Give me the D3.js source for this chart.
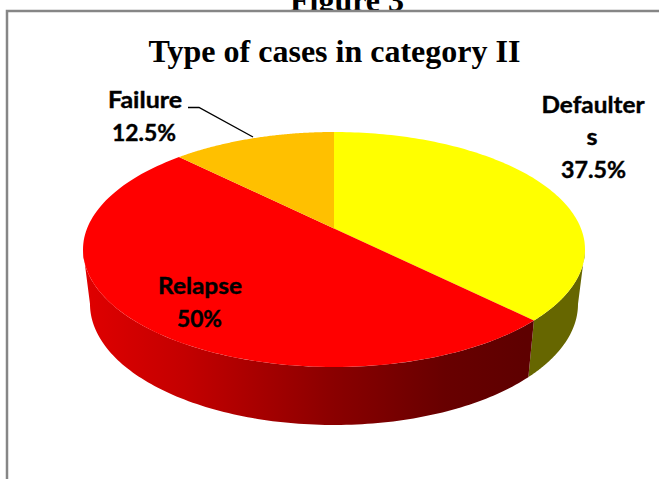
<!DOCTYPE html>
<html><head><meta charset="utf-8">
<style>html,body{margin:0;padding:0;background:#fff}svg{display:block}</style>
<script src="https://cdn.jsdelivr.net/npm/d3@7"></script></head>
<body><svg id="c" width="659" height="479"></svg>
<script>
const categories = ["Defaulters", "Relapse", "Failure"];
const values = [37.5, 50, 12.5];
const topColors = ["#ffff00", "#ff0000", "#ffc000"];
const sideColors = ["#666600", "#cc0000", "#996600"];
const valueLabels = ["37.5%", "50%", "12.5%"];

const svg = d3.select("#c");
const sans = "Lato,'Open Sans',sans-serif";
const serif = "'Liberation Serif','Times New Roman',serif";

svg.append("text").attr("x", 347).attr("y", 10.5).attr("text-anchor", "middle")
  .attr("font-family", serif).attr("font-weight", "bold").attr("font-size", 32).text("Figure 3");

// frame
svg.append("rect").attr("x", 7).attr("y", 11).attr("width", 700).attr("height", 600)
  .attr("fill", "#fff").attr("stroke", "#868686").attr("stroke-width", 2.5);

svg.append("text").attr("x", 334.5).attr("y", 62).attr("text-anchor", "middle")
  .attr("font-family", serif).attr("font-weight", "bold").attr("font-size", 32).text("Type of cases in category II");

// projection of the tilted disc
const k = 0.179;
function rim(a, e) {
  const x = Math.sin(a), y = -Math.cos(a), d = 1 - k * y;
  const X = x * Math.sqrt(1 - k * k) / d, Y = (y - k) / d;
  return [e.cx + e.rx * X, e.cy + e.ry * Y];
}
const topE = {cx: 334, cy: 249.5, rx: 251, ry: 117.5};
const botE = {cx: 334, cy: 304, rx: 244, ry: 121};
const apex = [topE.cx, topE.cy - k * topE.ry];

const arcs = d3.pie().sort(null).value(d => d)(values);
const line = d3.line();
const defs = svg.append("defs");
const sx = d3.scaleLinear().domain([0, 1]).range([83, 585]);
const grad = defs.append("linearGradient").attr("id", "redSide").attr("gradientUnits", "userSpaceOnUse")
  .attr("x1", sx(0)).attr("x2", sx(1)).attr("y1", 0).attr("y2", 0);
[[0, "#e00000"], [0.2, "#c40000"], [0.5, "#8a0000"], [0.72, "#680000"], [0.88, "#5e0000"], [1, "#5e0000"]]
  .forEach(s => grad.append("stop").attr("offset", s[0]).attr("stop-color", s[1]));

function samples(a0, a1) {
  return d3.range(0, 121).map(i => a0 + (a1 - a0) * i / 120);
}
// side walls: only the portion in front of the rim's widest points
const hide = Math.PI / 2 + 0.18;
arcs.forEach((d, i) => {
  const a0 = Math.max(d.startAngle, hide), a1 = Math.min(d.endAngle, 2 * Math.PI - hide);
  if (a1 <= a0) return;
  const s = samples(a0, a1);
  const poly = s.map(a => rim(a, topE)).concat(s.slice().reverse().map(a => rim(a, botE)));
  svg.append("path").attr("d", line(poly) + "Z")
    .attr("fill", i === 1 ? "url(#redSide)" : sideColors[i]);
});
// tops
arcs.forEach((d, i) => {
  const poly = [apex].concat(samples(d.startAngle, d.endAngle).map(a => rim(a, topE)));
  svg.append("path").attr("d", line(poly) + "Z").attr("fill", topColors[i]);
});

// leader
svg.append("path").attr("d", line([[188, 107.5], [199, 107.5], [253, 137]]))
  .attr("fill", "none").attr("stroke", "#000").attr("stroke-width", 1.4);

// labels
const lab = [
  {lines: ["Defaulter", "s", valueLabels[0]], x: [593, 592, 593.5], y: [113, 145, 178], w: [103, 11, 65]},
  {lines: [categories[1], valueLabels[1]], x: [200, 199.5], y: [294, 327], w: [84, 45]},
  {lines: [categories[2], valueLabels[2]], x: [145, 144], y: [108, 141], w: [74, 64]}
];
lab.forEach(l => l.lines.forEach((t, j) => {
  svg.append("text").attr("x", l.x[j]).attr("y", l.y[j]).attr("text-anchor", "middle")
    .attr("font-family", sans).attr("font-weight", "bold").attr("font-size", 23).attr("fill", "#000")
    .attr("stroke", "#000").attr("stroke-width", 0.4)
    .attr("textLength", l.w[j]).attr("lengthAdjust", "spacingAndGlyphs").text(t);
}));
</script></body></html>
